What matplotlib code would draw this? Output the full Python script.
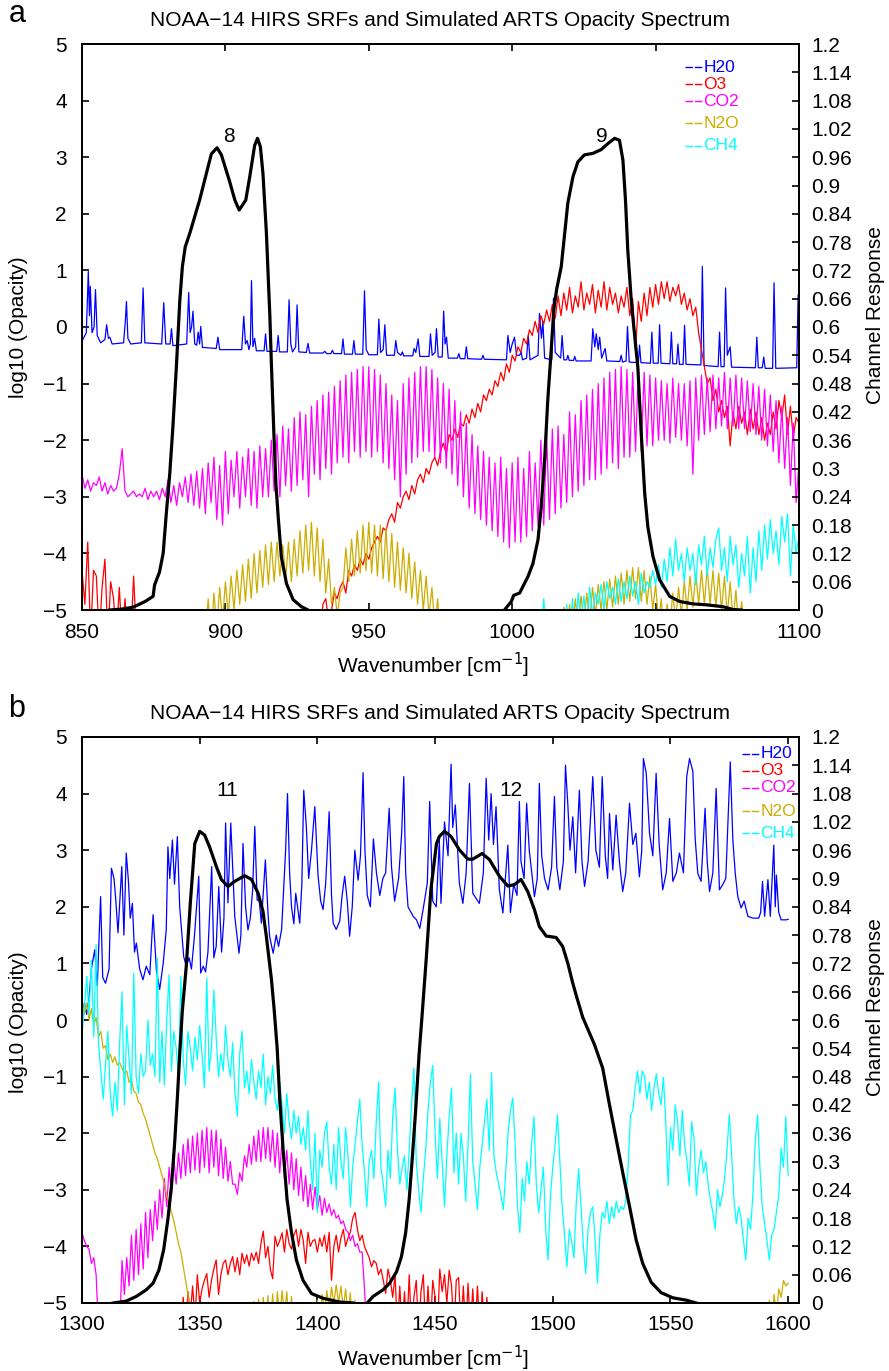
import numpy as np
import matplotlib
matplotlib.use('Agg')
import matplotlib.pyplot as plt

plt.rcParams['font.family'] = ['Liberation Sans', 'DejaVu Sans']

# colores de cada gas
c_h2o = '#0000ff'
c_o3 = '#ff0000'
c_co2 = '#ff00ff'
c_n2o = '#ccad00'
c_ch4 = '#00ffff'

gases = ['H20', 'O3', 'CO2', 'N2O', 'CH4']
title = 'NOAA\u221214 HIRS SRFs and Simulated ARTS Opacity Spectrum'

#%% panel a (850-1100 cm-1), log10 opacity

# H2O: lineas aisladas sobre un fondo
h2o_a_x = [850.0, 851.5, 852.2, 852.6, 852.9, 853.5, 854.2, 854.7, 855.3, 856.5,
           858.0, 858.6, 859.2, 859.7, 860.5, 864.5, 865.1, 865.5, 866.0, 867.0,
           870.7, 871.3, 871.9, 877.8, 878.5, 879.2, 880.7, 881.2, 881.7, 886.5,
           887.2, 887.7, 888.2, 888.7, 889.3, 890.0, 890.5, 891.0, 891.4, 892.0,
           896.8, 897.4, 898.0, 905.7, 906.4, 907.0, 907.6, 908.2, 908.7, 909.1,
           909.6, 910.2, 910.8, 913.5, 914.0, 914.5, 917.9, 918.4, 918.9, 921.6,
           922.2, 922.8, 923.4, 924.5, 925.0, 925.6, 928.2, 928.8, 929.4, 934.0,
           934.7, 935.3, 936.8, 937.3, 937.8, 940.5, 941.0, 941.5, 944.3, 944.8,
           945.3, 947.9, 948.5, 949.1, 950.0, 953.0, 953.5, 954.1, 955.0, 955.6,
           956.2, 958.9, 959.4, 960.0, 961.2, 961.7, 962.2, 965.3, 965.8, 966.4,
           967.2, 967.8, 971.0, 971.5, 972.1, 973.1, 973.6, 974.2, 975.6, 976.1,
           976.6, 977.1, 977.7, 980.9, 981.4, 981.9, 983.5, 984.0, 984.5, 989.3,
           989.8, 990.3, 998.0, 998.5, 999.3, 1000.0, 1000.8, 1001.5, 1002.6, 1003.1,
           1003.6, 1005.0, 1005.6, 1006.2, 1009.0, 1009.5, 1010.2, 1010.7, 1011.3, 1013.8,
           1014.4, 1015.0, 1016.9, 1017.4, 1018.0, 1019.0, 1019.4, 1019.9, 1021.4, 1021.8,
           1022.3, 1027.5, 1028.1, 1028.8, 1029.3, 1030.0, 1030.5, 1031.2, 1032.4, 1033.0,
           1037.5, 1038.0, 1038.5, 1039.7, 1040.2, 1040.8, 1044.0, 1044.4, 1044.9, 1048.2,
           1048.7, 1049.2, 1050.9, 1051.4, 1051.9, 1055.0, 1055.5, 1056.0, 1057.3, 1057.8,
           1058.3, 1059.6, 1060.1, 1060.6, 1065.8, 1066.3, 1066.9, 1071.8, 1072.3, 1072.8,
           1073.9, 1074.4, 1075.0, 1076.0, 1076.5, 1084.8, 1085.3, 1085.8, 1087.2, 1087.7,
           1088.2, 1090.8, 1091.3, 1091.9, 1099.2, 1099.7, 1100.0]
h2o_a_y = [-0.25, -0.1, 0.98, 0.2, 0.72, -0.1, 0.0, 0.66, -0.15, -0.28,
           -0.22, 0.04, -0.2, -0.18, -0.3, -0.28, 0.1, 0.45, -0.2, -0.3,
           -0.28, 0.69, -0.28, -0.3, 0.43, -0.3, -0.3, -0.03, -0.33, -0.3,
           0.61, -0.1, 0.0, 0.28, -0.3, -0.32, -0.09, -0.3, 0.01, -0.36,
           -0.38, -0.18, -0.4, -0.4, 0.19, -0.3, -0.24, -0.4, -0.3, 0.82,
           -0.35, -0.2, -0.42, -0.42, -0.12, -0.43, -0.43, -0.15, -0.44, -0.44,
           0.48, -0.3, -0.44, -0.35, 0.39, -0.44, -0.45, -0.29, -0.46, -0.46,
           -0.43, -0.47, -0.47, -0.41, -0.47, -0.47, -0.21, -0.48, -0.48, -0.24,
           -0.48, -0.48, 0.64, -0.4, -0.49, -0.49, 0.14, -0.45, -0.4, 0.04,
           -0.5, -0.5, -0.24, -0.45, -0.5, -0.44, -0.51, -0.51, -0.38, -0.45,
           -0.21, -0.52, -0.52, -0.12, -0.5, -0.45, -0.03, -0.53, -0.53, 0.28,
           -0.3, -0.18, -0.55, -0.55, -0.47, -0.56, -0.56, -0.35, -0.56, -0.57,
           -0.5, -0.57, -0.58, -0.15, -0.45, -0.3, -0.18, -0.5, -0.5, -0.44,
           -0.58, -0.55, -0.15, -0.58, -0.5, 0.24, -0.2, 0.1, -0.55, -0.58,
           0.51, -0.45, -0.55, -0.15, -0.58, -0.58, -0.5, -0.59, -0.59, -0.52,
           -0.6, -0.6, -0.03, -0.35, -0.12, -0.4, -0.18, -0.55, -0.38, -0.6,
           -0.61, -0.5, -0.62, -0.6, 0.01, -0.62, -0.63, -0.32, -0.63, -0.64,
           -0.09, -0.64, -0.64, 0.04, -0.64, -0.65, -0.09, -0.65, -0.65, -0.3,
           -0.66, -0.66, 0.03, -0.66, -0.67, 1.07, -0.68, -0.7, -0.09, -0.7,
           -0.7, 0.69, -0.5, -0.35, -0.71, -0.72, -0.18, -0.72, -0.72, -0.53,
           -0.73, -0.73, 0.78, -0.73, -0.72, 0.57, -0.1]

# O3: primer tramo desde 850, segundo desde 933 (paso 1 cm-1)
o3_a1 = [-4.3, -4.9, -3.8, -5.5, -4.3, -4.4, -5.5, -4.6, -4.1, -5.5,
         -4.5, -4.8, -5.5, -4.6, -5.5, -4.8, -5.5, -5.5, -4.4, -5.5]
o3_a2 = [-5.5, -4.9, -4.8, -5.2, -5.0, -4.7, -4.8, -4.6, -4.5, -4.7,
         -4.3, -4.4, -4.2, -4.3, -4.1, -4.2, -4.0, -4.1, -3.9, -3.8,
         -3.7, -3.8, -3.55, -3.6, -3.4, -3.3, -3.45, -3.1, -3.2, -3.0,
         -2.9, -3.05, -2.8, -2.95, -2.7, -2.6, -2.75, -2.5, -2.6, -2.4,
         -2.3, -2.45, -2.2, -2.05, -2.25, -1.9, -2.0, -1.8, -1.95, -1.7,
         -1.75, -1.55, -1.7, -1.45, -1.6, -1.35, -1.5, -1.2, -1.3, -1.1,
         -1.2, -0.95, -1.05, -0.8, -0.95, -0.65, -0.8, -0.5, -0.6, -0.35,
         -0.45, -0.2, -0.3, -0.05, -0.15, 0.1, -0.1, 0.2, 0.05, 0.3,
         0.1, 0.4, 0.15, 0.55, 0.2, 0.6, 0.3, 0.7, 0.25, 0.55,
         0.35, 0.8, 0.3, 0.6, 0.4, 0.75, 0.25, 0.65, 0.35, 0.8,
         0.3, 0.7, 0.4, 0.6, 0.25, 0.55, 0.35, 0.7, 0.2, 0.5,
         -0.4, 0.45, 0.1, 0.6, 0.2, 0.7, 0.35, 0.75, 0.4, 0.8,
         0.5, 0.8, 0.45, 0.7, 0.55, 0.75, 0.4, 0.6, 0.3, 0.5,
         0.2, 0.35, -0.1, -0.4, -0.7, -1.0, -0.9, -1.3, -1.1, -1.5,
         -1.3, -1.6, -1.4, -2.1, -1.5, -1.8, -1.4, -1.7, -1.5, -1.9,
         -1.45, -1.8, -1.5, -1.9, -1.6, -2.0, -1.7, -1.9, -1.5, -1.8,
         -1.3, -1.6, -1.2, -1.9, -1.4, -1.95, -1.6, -1.7]

# CO2 desde 850
co2_a = [-2.6, -2.85, -2.7, -2.9, -2.75, -2.8, -2.65, -2.9, -2.75, -2.95,
         -2.8, -2.9, -2.85, -2.6, -2.15, -2.9, -3.0, -2.95, -2.9, -3.0,
         -2.95, -3.0, -2.85, -3.05, -2.9, -3.0, -2.9, -3.05, -2.85, -3.0,
         -2.7, -3.1, -2.8, -3.15, -2.75, -3.0, -2.65, -3.1, -2.6, -3.15,
         -2.55, -3.2, -2.5, -3.3, -2.4, -3.1, -2.3, -3.4, -2.45, -3.5,
         -2.2, -3.3, -2.35, -3.0, -2.2, -3.2, -2.3, -3.0, -2.15, -3.15,
         -2.2, -3.2, -2.1, -3.0, -2.15, -3.0, -2.0, -2.9, -1.9, -3.0,
         -1.75, -2.8, -1.8, -2.9, -1.6, -2.8, -1.5, -2.7, -1.55, -3.0,
         -1.4, -2.6, -1.3, -2.7, -1.2, -2.5, -1.15, -2.6, -1.05, -2.4,
         -0.95, -2.3, -0.85, -2.4, -0.8, -2.2, -0.75, -2.3, -0.7, -2.2,
         -0.7, -2.3, -0.75, -2.2, -0.85, -2.4, -1.0, -2.5, -1.2, -2.7,
         -1.3, -3.0, -1.0, -2.6, -0.9, -2.4, -0.8, -2.3, -0.7, -2.2,
         -0.7, -2.2, -0.75, -2.3, -0.9, -2.4, -1.0, -2.5, -1.1, -2.6,
         -1.3, -2.8, -1.5, -3.0, -1.7, -3.2, -1.9, -3.3, -2.1, -3.4,
         -2.2, -3.5, -2.3, -3.6, -2.4, -3.7, -2.3, -3.8, -2.5, -3.9,
         -2.4, -3.8, -2.3, -3.8, -2.5, -3.7, -2.2, -3.6, -2.4, -3.5,
         -2.0, -3.5, -1.9, -3.4, -1.8, -3.3, -1.75, -3.2, -1.9, -3.1,
         -1.5, -3.0, -1.55, -2.9, -1.3, -2.8, -1.2, -2.7, -1.1, -2.7,
         -1.0, -2.6, -0.9, -2.5, -0.8, -2.4, -0.75, -2.5, -0.7, -2.3,
         -0.75, -2.3, -0.8, -2.2, -0.7, -2.2, -0.8, -2.1, -0.85, -2.1,
         -0.9, -2.0, -0.95, -2.0, -1.0, -2.05, -0.9, -1.95, -1.0, -2.0,
         -1.0, -2.1, -0.95, -2.6, -0.9, -2.0, -0.85, -1.9, -0.9, -1.85,
         -0.85, -1.8, -0.9, -1.75, -0.8, -1.8, -0.9, -1.75, -0.85, -1.8,
         -0.9, -1.8, -0.95, -1.85, -1.0, -1.9, -1.05, -2.0, -1.1, -2.1,
         -1.2, -2.2, -1.3, -2.4, -1.4, -2.5, -1.6, -2.8, -1.7, -3.1,
         -2.4]

# N2O: dos bandas, desde 893 y desde 1017
n2o_a1 = [-5.5, -4.8, -5.5, -4.7, -5.3, -4.6, -5.2, -4.5, -5.1, -4.4,
          -5.0, -4.3, -4.9, -4.2, -4.85, -4.1, -4.8, -4.0, -4.7, -3.95,
          -4.6, -3.85, -4.55, -3.8, -4.5, -3.8, -4.4, -3.85, -4.45, -3.8,
          -4.5, -3.75, -4.4, -3.6, -4.35, -3.5, -4.3, -3.45, -4.4, -3.55,
          -4.5, -3.75, -4.7, -4.1, -4.9, -4.6, -5.1, -4.7, -4.6, -3.9,
          -4.5, -3.75, -4.4, -3.6, -4.35, -3.5, -4.3, -3.45, -4.35, -3.5,
          -4.4, -3.5, -4.45, -3.55, -4.5, -3.65, -4.6, -3.8, -4.65, -3.9,
          -4.7, -4.0, -4.8, -4.15, -4.9, -4.3, -5.0, -4.4, -5.1, -4.6,
          -5.3, -4.8, -5.5, -5.0]
n2o_a2 = [-5.5, -4.95, -5.5, -4.9, -5.4, -4.8, -5.3, -4.75, -5.2, -4.7,
          -5.2, -4.6, -5.1, -4.55, -5.0, -4.5, -5.0, -4.45, -4.95, -4.4,
          -4.9, -4.35, -4.9, -4.3, -4.85, -4.25, -4.8, -4.25, -4.85, -4.3,
          -4.9, -4.4, -5.0, -4.55, -5.2, -4.8, -5.5, -4.9, -5.3, -4.7,
          -5.2, -4.6, -5.1, -4.5, -5.0, -4.4, -4.95, -4.35, -4.9, -4.3,
          -4.9, -4.25, -4.9, -4.3, -4.95, -4.35, -5.0, -4.4, -5.1, -4.5,
          -5.2, -4.65, -5.3, -4.85, -5.5]

# CH4 desde 1010
ch4_a = [-5.5, -4.8, -5.5, -5.5, -5.5, -5.5, -5.5, -5.5, -5.5, -4.9,
         -5.5, -4.8, -5.5, -4.7, -5.2, -4.75, -5.3, -4.6, -5.1, -4.7,
         -4.9, -4.55, -5.0, -4.5, -4.8, -4.6, -4.9, -4.45, -4.85, -4.5,
         -4.8, -4.4, -4.75, -4.5, -4.9, -4.35, -4.7, -4.5, -4.6, -4.3,
         -4.55, -4.2, -4.6, -4.1, -4.5, -3.9, -4.4, -3.75, -4.3, -4.0,
         -4.5, -3.9, -4.3, -4.0, -4.55, -3.85, -4.2, -3.7, -4.4, -3.9,
         -4.25, -3.75, -3.55, -4.3, -3.9, -4.5, -3.7, -4.2, -3.85, -4.6,
         -4.0, -4.4, -3.7, -4.7, -3.9, -4.5, -3.6, -4.3, -3.5, -4.1,
         -3.4, -4.0, -3.6, -4.2, -3.35, -3.8, -3.3, -4.4, -3.5, -4.0,
         -3.7]

# respuesta espectral canales 8 y 9
srf8_x = [859.7, 864.0, 867.8, 872.0, 874.8, 875.3, 877.0, 878.3, 879.4, 880.6,
          881.7, 882.9, 884.1, 885.0, 886.0, 887.6, 889.3, 891.0, 892.8, 895.1,
          897.1, 898.6, 901.5, 903.3, 904.8, 907.1, 908.5, 910.2, 911.2, 912.2,
          913.1, 914.3, 915.0, 915.5, 916.0, 916.9, 917.6, 918.4, 919.5, 921.3,
          923.6, 926.5, 928.8]
srf8 = [0.0, 0.002, 0.006, 0.018, 0.029, 0.053, 0.08, 0.12, 0.205, 0.289,
        0.389, 0.515, 0.656, 0.728, 0.77, 0.799, 0.834, 0.869, 0.912, 0.967,
        0.98, 0.965, 0.908, 0.869, 0.848, 0.869, 0.919, 0.985, 1.0, 0.982,
        0.925, 0.799, 0.696, 0.624, 0.528, 0.374, 0.269, 0.198, 0.113, 0.056,
        0.022, 0.007, 0.0]
srf9_x = [997.3, 999.7, 1000.5, 1002.6, 1005.5, 1007.2, 1009.0, 1010.1, 1011.3, 1012.4,
          1013.6, 1014.5, 1015.5, 1017.1, 1019.4, 1021.2, 1022.9, 1025.2, 1028.1, 1031.0,
          1033.4, 1035.7, 1037.4, 1038.6, 1039.5, 1040.3, 1041.5, 1042.4, 1043.8, 1045.0,
          1046.2, 1047.3, 1049.1, 1051.4, 1054.9, 1058.4, 1063.0, 1067.7, 1073.5, 1077.0,
          1079.9]
srf9 = [0.0, 0.018, 0.031, 0.036, 0.071, 0.098, 0.149, 0.218, 0.318, 0.445,
        0.551, 0.636, 0.68, 0.728, 0.863, 0.919, 0.95, 0.965, 0.968, 0.976,
        0.989, 1.0, 0.996, 0.954, 0.869, 0.763, 0.658, 0.6, 0.515, 0.374,
        0.247, 0.176, 0.113, 0.064, 0.029, 0.018, 0.013, 0.011, 0.007, 0.001,
        0.0]

#%% panel b (1300-1600 cm-1)

h2o_b_x = [1300.0, 1301.0, 1302.0, 1303.0, 1304.0, 1305.4, 1306.5, 1307.9, 1308.8, 1310.0,
           1311.5, 1312.5, 1313.6, 1314.3, 1315.3, 1316.9, 1317.8, 1318.8, 1319.7, 1320.5,
           1321.4, 1322.3, 1323.1, 1324.5, 1325.9, 1327.3, 1328.8, 1330.2, 1331.6, 1333.0,
           1334.5, 1335.8, 1336.5, 1337.3, 1338.4, 1339.3, 1340.5, 1341.5, 1343.2, 1344.3,
           1345.5, 1346.5, 1347.8, 1349.6, 1350.4, 1351.5, 1352.5, 1353.5, 1355.1, 1356.0,
           1357.0, 1358.1, 1359.3, 1360.3, 1361.0, 1362.0, 1363.2, 1364.9, 1366.7, 1367.5,
           1368.4, 1369.5, 1370.5, 1371.5, 1372.5, 1373.4, 1374.4, 1375.3, 1376.2, 1377.9,
           1379.0, 1379.7, 1381.2, 1382.5, 1383.5, 1384.8, 1386.5, 1387.3, 1388.2, 1389.0,
           1390.0, 1390.8, 1392.5, 1393.4, 1394.2, 1395.3, 1396.3, 1397.5, 1398.9, 1400.3,
           1401.4, 1402.4, 1403.5, 1405.0, 1406.0, 1406.7, 1408.0, 1409.5, 1410.5, 1411.6,
           1412.7, 1413.7, 1414.8, 1415.9, 1417.3, 1418.3, 1419.4, 1420.2, 1421.2, 1422.5,
           1423.8, 1425.1, 1426.5, 1427.8, 1429.0, 1430.5, 1431.5, 1432.8, 1434.5, 1435.8,
           1436.7, 1437.5, 1438.5, 1440.7, 1442.1, 1443.5, 1444.9, 1446.7, 1447.7, 1449.0,
           1450.5, 1451.8, 1452.5, 1454.0, 1455.5, 1456.8, 1457.5, 1458.6, 1460.3, 1461.8,
           1463.2, 1464.6, 1466.0, 1468.8, 1470.5, 1471.7, 1472.8, 1473.8, 1474.8, 1475.9,
           1477.3, 1478.8, 1480.9, 1482.0, 1483.4, 1484.8, 1485.8, 1486.5, 1487.8, 1488.9,
           1490.0, 1492.2, 1493.4, 1494.3, 1495.3, 1496.5, 1498.0, 1499.5, 1500.7, 1501.7,
           1503.0, 1504.5, 1505.4, 1506.4, 1507.3, 1508.5, 1509.7, 1511.3, 1512.4, 1513.5,
           1515.0, 1516.3, 1517.0, 1518.3, 1519.8, 1521.0, 1522.3, 1523.3, 1524.1, 1525.5,
           1526.9, 1528.3, 1529.7, 1531.0, 1532.6, 1534.0, 1535.3, 1536.8, 1537.8, 1538.5,
           1539.7, 1541.1, 1542.5, 1543.9, 1545.2, 1546.7, 1548.2, 1549.6, 1551.0, 1552.5,
           1553.8, 1555.5, 1556.9, 1558.1, 1559.5, 1560.5, 1561.6, 1563.0, 1564.7, 1565.6,
           1566.6, 1568.0, 1569.4, 1570.8, 1572.3, 1573.5, 1575.4, 1576.5, 1577.5, 1578.6,
           1580.0, 1581.3, 1582.9, 1585.0, 1587.5, 1588.3, 1589.1, 1590.0, 1591.4, 1592.4,
           1593.9, 1594.5, 1595.0, 1596.0, 1597.0, 1599.2, 1600.0]
h2o_b_y = [0.0, 0.3, 0.1, 0.4, 0.9, 1.24, 0.6, 2.18, 0.75, 0.65,
           0.9, 2.68, 2.5, 2.15, 1.54, 2.71, 1.5, 2.95, 2.47, 1.8,
           2.06, 1.2, 1.36, 0.9, 0.71, 0.95, 0.8, 1.86, 0.89, 0.54,
           1.0, 1.6, 3.06, 2.5, 3.18, 2.4, 3.24, 2.0, 1.12, 0.95,
           1.1, 0.9, 1.5, 2.54, 0.83, 0.95, 0.85, 1.2, 2.71, 1.1,
           1.3, 2.36, 1.2, 1.8, 3.48, 2.07, 3.48, 1.83, 1.18, 1.5,
           3.12, 2.0, 1.59, 1.8, 2.3, 3.42, 2.12, 2.1, 1.71, 2.83,
           1.9, 1.48, 1.18, 1.5, 1.3, 1.6, 3.0, 4.0, 2.6, 2.0,
           1.7, 2.24, 1.71, 2.4, 4.06, 3.42, 2.5, 3.0, 3.77, 2.54,
           2.1, 1.95, 2.4, 3.68, 2.2, 1.71, 1.6, 1.75, 2.2, 2.54,
           2.1, 1.48, 2.0, 3.0, 2.47, 2.9, 4.37, 3.0, 2.2, 2.0,
           3.2, 2.59, 2.2, 2.5, 2.6, 3.74, 2.7, 2.1, 2.5, 3.3,
           4.3, 2.6, 2.0, 1.83, 1.77, 1.62, 1.95, 2.42, 3.86, 2.1,
           2.0, 3.18, 2.06, 3.5, 2.9, 4.52, 3.4, 3.8, 2.42, 2.06,
           2.6, 4.18, 2.24, 2.06, 2.6, 4.27, 3.18, 4.0, 3.1, 3.77,
           2.3, 1.89, 3.09, 1.9, 2.4, 2.2, 3.86, 2.8, 2.5, 3.83,
           3.0, 2.18, 2.5, 4.18, 2.9, 2.5, 2.3, 2.7, 3.95, 2.7,
           2.3, 2.8, 4.5, 3.8, 3.0, 3.59, 2.6, 4.06, 2.8, 2.36,
           2.8, 3.77, 4.3, 3.0, 2.7, 4.3, 2.9, 2.5, 3.65, 2.65,
           3.62, 2.8, 2.27, 2.6, 3.83, 3.1, 3.3, 2.53, 3.0, 4.62,
           4.36, 3.3, 2.9, 4.36, 3.1, 2.3, 2.6, 3.56, 2.45, 2.6,
           2.95, 2.6, 4.3, 4.62, 4.39, 3.2, 2.59, 2.45, 3.74, 2.8,
           2.27, 2.6, 4.09, 2.3, 2.4, 2.5, 4.56, 3.18, 2.6, 2.18,
           1.98, 2.1, 1.83, 1.8, 1.8, 1.9, 2.45, 1.83, 2.48, 1.83,
           3.09, 2.0, 2.56, 1.9, 1.77, 1.77, 1.78]

# O3 desde 1342
o3_b = [-5.5, -4.9, -5.5, -4.8, -5.2, -4.7, -5.3, -4.5, -5.0, -4.75,
        -4.6, -4.48, -4.9, -4.6, -4.4, -4.24, -4.85, -4.5, -4.3, -4.24,
        -4.5, -4.3, -4.18, -4.45, -4.2, -4.5, -4.12, -4.3, -4.15, -4.35,
        -4.12, -4.25, -4.1, -4.3, -3.95, -3.73, -4.2, -4.0, -4.4, -4.57,
        -3.82, -4.0, -3.9, -3.76, -4.1, -3.7, -3.95, -4.05, -3.8, -3.7,
        -4.0, -3.7, -3.9, -4.3, -3.75, -4.0, -3.9, -3.88, -4.1, -3.85,
        -4.0, -3.8, -4.1, -3.75, -4.6, -4.0, -3.8, -4.1, -3.85, -3.7,
        -4.0, -3.85, -3.75, -3.5, -3.4, -3.7, -3.9, -3.8, -4.0, -4.1,
        -4.2, -4.36, -4.25, -4.3, -4.5, -4.4, -4.6, -4.83, -4.4, -4.6,
        -4.9, -4.5, -5.5, -4.7, -5.5, -4.8, -5.5, -4.5, -5.5, -4.9,
        -4.6, -5.5, -4.8, -4.5, -5.5, -4.7, -5.5, -4.6, -4.9, -5.5,
        -4.4, -4.8, -4.5, -5.0, -4.42, -4.7, -5.5, -4.6, -4.55, -5.5,
        -4.7, -5.5, -4.65, -5.5, -4.75, -5.5, -4.7, -5.5, -4.8, -5.5,
        -4.9, -5.5, -5.5, -5.5]

# CO2 desde 1300
co2_b = [-3.75, -3.9, -4.0, -4.05, -4.3, -4.2, -4.5, -5.5, -5.5, -5.5,
         -5.5, -5.5, -5.5, -5.5, -5.5, -5.5, -5.5, -4.25, -4.85, -4.2,
         -4.7, -3.8, -4.6, -3.7, -4.5, -3.6, -4.4, -3.4, -4.2, -3.35,
         -3.9, -3.2, -3.7, -3.0, -3.5, -2.8, -3.3, -2.6, -3.1, -2.45,
         -2.9, -2.35, -2.8, -2.2, -2.75, -2.1, -2.7, -2.05, -2.65, -2.0,
         -2.7, -1.95, -2.6, -1.9, -2.7, -1.95, -2.6, -1.95, -2.75, -2.1,
         -2.8, -2.25, -2.85, -2.5, -2.9, -2.9, -3.08, -2.7, -2.85, -2.4,
         -2.6, -2.2, -2.55, -2.05, -2.5, -1.95, -2.5, -1.9, -2.45, -1.9,
         -2.5, -1.95, -2.6, -2.0, -2.7, -2.1, -2.8, -2.3, -2.9, -2.35,
         -3.0, -2.45, -3.1, -2.6, -3.2, -2.75, -3.3, -2.9, -3.35, -2.95,
         -3.35, -3.1, -3.45, -3.15, -3.4, -3.25, -3.45, -3.35, -3.5, -3.45,
         -3.6, -3.55, -3.7, -3.75, -3.9, -3.8, -4.0, -3.95, -4.1, -4.1,
         -4.75, -5.5]

# N2O: cola desde 1300 y bandas debiles en 1372, 1399 y 1591
n2o_b1 = [0.35, 0.1, 0.3, 0.0, 0.2, -0.1, 0.05, -0.3, -0.2, -0.5,
          -0.45, -0.7, -0.6, -0.75, -0.65, -0.8, -0.75, -0.85, -0.95, -0.9,
          -1.1, -1.05, -1.25, -1.3, -1.45, -1.5, -1.65, -1.75, -1.9, -2.05,
          -2.2, -2.35, -2.45, -2.6, -2.75, -2.9, -3.1, -3.25, -3.4, -3.55,
          -3.75, -3.95, -4.1, -4.35, -4.6, -4.85, -5.5]
n2o_b2 = [-5.5, -4.97, -5.5, -4.93, -5.5, -4.9, -5.5, -4.87, -5.5, -4.84,
          -5.5, -4.8, -5.3, -4.78, -5.2, -4.8, -5.5, -4.88, -5.5]
n2o_b3 = [-5.5, -4.95, -5.5, -4.85, -5.2, -4.78, -5.1, -4.72, -5.0, -4.68,
          -5.0, -4.7, -5.1, -4.75, -5.2, -4.82, -5.5, -4.95]
n2o_b4 = [-5.5, -4.95, -5.5, -4.85, -5.2, -4.75, -4.9, -4.6, -4.7, -4.65]

# CH4 desde 1300
ch4_b = [-0.25, 0.2, 0.77, 0.1, 1.06, -0.3, 1.33, -0.4, -0.9, -1.4,
         -0.8, -0.2, -1.3, -1.7, -1.1, -1.6, -0.4, 0.5, -1.5, -0.1,
         -0.7, -1.3, 0.83, -1.0, -1.3, -0.6, -1.0, -0.9, 0.0, -0.8,
         -0.6, -1.0, 1.09, -1.1, -0.2, -1.15, 0.0, 0.8, -0.9, -0.2,
         -0.5, -1.0, 0.77, -0.7, -1.15, -0.2, -0.5, -0.9, -0.3, -0.7,
         -0.1, -0.6, -1.2, 0.74, -0.9, -0.5, 0.53, -0.3, -1.0, -0.6,
         -0.9, -0.1, -0.7, -1.0, -0.4, -1.3, -1.7, -0.6, -0.2, -1.2,
         -0.9, -1.3, -0.7, -1.1, -1.4, -0.9, -1.2, -0.6, -1.5, -1.0,
         -1.3, -0.8, -1.4, -1.6, -1.1, -1.5, -2.0, -1.3, -1.8, -2.1,
         -1.6, -2.0, -1.7, -2.2, -1.9, -2.3, -1.6, -2.5, -3.0, -2.0,
         -3.4, -2.3, -2.6, -2.0, -1.8, -2.6, -2.9, -2.2, -3.0, -1.9,
         -2.5, -2.8, -1.9, -2.4, -3.3, -2.6, -2.2, -1.8, -1.4, -2.2,
         -2.7, -3.3, -2.5, -2.3, -2.8, -1.8, -1.1, -2.6, -2.9, -3.3,
         -2.3, -2.8, -1.7, -1.2, -2.3, -2.9, -2.6, -2.4, -3.0, -2.3,
         -1.5, -0.85, -2.5, -3.0, -3.4, -2.8, -2.3, -1.6, -1.1, -0.8,
         -2.0, -2.8, -1.74, -2.5, -3.3, -2.4, -1.7, -1.2, -2.7, -2.0,
         -2.9, -2.0, -2.4, -3.2, -2.2, -0.96, -2.5, -2.9, -3.35, -2.6,
         -2.2, -1.8, -1.4, -2.3, -0.93, -2.4, -2.7, -2.9, -3.1, -3.35,
         -2.7, -2.0, -1.6, -1.38, -2.2, -3.3, -3.76, -2.8, -3.2, -2.5,
         -2.9, -2.2, -1.71, -2.9, -3.4, -3.0, -2.6, -3.7, -4.24, -3.1,
         -2.6, -2.2, -1.68, -2.5, -3.3, -3.8, -4.36, -3.7, -3.9, -4.2,
         -3.2, -2.63, -3.3, -4.0, -4.48, -3.7, -3.4, -3.3, -3.9, -4.65,
         -3.8, -3.4, -3.5, -3.2, -3.6, -3.3, -3.5, -3.2, -3.4, -3.3,
         -3.35, -3.2, -2.6, -1.68, -1.6, -1.2, -0.9, -1.3, -0.9, -1.0,
         -1.4, -1.1, -1.6, -1.2, -0.95, -1.3, -1.5, -1.01, -1.8, -2.93,
         -1.9, -2.3, -1.5, -1.8, -2.4, -1.6, -2.2, -2.5, -2.93, -1.8,
         -2.1, -3.1, -2.6, -2.3, -2.7, -2.5, -2.9, -3.2, -3.4, -3.7,
         -3.0, -3.3, -3.1, -2.8, -2.3, -1.68, -2.4, -3.2, -3.6, -3.3,
         -3.5, -3.9, -4.24, -3.5, -3.7, -3.1, -2.15, -1.68, -2.6, -3.3,
         -3.6, -3.9, -4.24, -3.8, -3.7, -3.4, -3.1, -2.27, -2.6, -1.71,
         -2.75]

srf11_x = [1313.2, 1318.8, 1323.1, 1327.3, 1330.2, 1332.7, 1334.7, 1336.5, 1338.0, 1339.4,
           1340.5, 1341.5, 1342.6, 1344.3, 1346.0, 1347.9, 1350.0, 1352.1, 1354.2, 1357.1,
           1359.2, 1362.0, 1364.9, 1369.1, 1372.0, 1374.8, 1376.9, 1378.3, 1380.5, 1381.6,
           1382.9, 1384.0, 1385.4, 1387.1, 1389.0, 1391.1, 1393.9, 1397.5, 1402.4, 1409.5,
           1415.2]
srf11 = [0.0, 0.004, 0.014, 0.028, 0.042, 0.07, 0.113, 0.178, 0.248, 0.342,
         0.434, 0.527, 0.618, 0.714, 0.847, 0.974, 1.0, 0.992, 0.967, 0.925,
         0.898, 0.883, 0.894, 0.906, 0.898, 0.869, 0.83, 0.778, 0.685, 0.624,
         0.541, 0.434, 0.328, 0.22, 0.149, 0.091, 0.048, 0.02, 0.01, 0.002,
         0.0]
srf12_x = [1421.5, 1423.7, 1427.9, 1430.7, 1433.6, 1435.7, 1437.5, 1439.0, 1440.4, 1441.8,
           1443.2, 1444.6, 1446.3, 1448.2, 1450.6, 1451.8, 1454.0, 1456.8, 1460.3, 1463.9,
           1466.0, 1470.0, 1473.1, 1477.3, 1480.9, 1483.7, 1486.5, 1489.4, 1492.2, 1494.3,
           1497.2, 1501.4, 1504.2, 1506.4, 1508.5, 1510.2, 1512.7, 1517.7, 1521.2, 1524.1,
           1526.9, 1529.7, 1532.6, 1535.4, 1538.2, 1541.8, 1546.0, 1551.0, 1556.7, 1560.9]
srf12 = [0.002, 0.014, 0.028, 0.042, 0.066, 0.098, 0.149, 0.22, 0.313, 0.413,
         0.527, 0.618, 0.734, 0.876, 0.974, 0.989, 1.0, 0.989, 0.961, 0.941,
         0.941, 0.953, 0.94, 0.905, 0.884, 0.887, 0.898, 0.872, 0.834, 0.798,
         0.778, 0.775, 0.756, 0.72, 0.678, 0.648, 0.606, 0.548, 0.498, 0.42,
         0.348, 0.277, 0.205, 0.134, 0.084, 0.044, 0.022, 0.011, 0.006, 0.0]


def grid(x0, vals):
    # eje x de 1 cm-1 para las series muestreadas
    return x0 + np.arange(len(vals))


def panel(bottom, xlim, xticks, series, srfs, chan_lab, leg_x, leg_y, lab_y, letter):
    ax = fig.add_axes([82/889, bottom, 717/889, 566/1371])
    for x, y, c in series:
        ax.plot(x, y, color=c, lw=0.9)
    ax.set_xlim(*xlim)
    ax.set_ylim(-5, 5)
    ax.set_xticks(xticks)
    ax.set_yticks(range(-5, 6))
    ax.tick_params(direction='in', length=5, width=1.2, labelsize=15, top=True, right=False)
    ax.tick_params(axis='x', pad=9)
    ax.tick_params(axis='y', pad=11)
    for s in ax.spines.values():
        s.set_linewidth(1.4)
    ax.set_xlabel('Wavenumber [cm$^{-1}$]', fontsize=15)
    ax.xaxis.set_label_coords(0.49, -0.072)
    ax.set_ylabel('log10 (Opacity)', fontsize=15)
    ax.yaxis.set_label_coords(-0.075, lab_y[0])
    ax.text(0.5, 1.042, title, transform=ax.transAxes, ha='center', va='center', fontsize=15)

    ax2 = ax.twinx()
    for x, r in srfs:
        ax2.plot(x, r, color='k', lw=2.3)
    ax2.set_ylim(0, 1.2)
    ax2.set_yticks(np.linspace(0, 1.2, 21))
    ax2.set_yticklabels(['%g' % round(v, 2) for v in np.linspace(0, 1.2, 21)])
    ax2.tick_params(direction='in', length=5, width=1.2, labelsize=15, pad=9)
    ax2.set_ylabel('Channel Response', fontsize=15)
    ax2.yaxis.set_label_coords(1.093, lab_y[1])
    for s in ax2.spines.values():
        s.set_linewidth(1.4)

    for t, x, y in chan_lab:
        ax.text(x, y, t, ha='center', va='center', fontsize=15)

    # leyenda: trazo discontinuo corto + nombre del gas
    cols = [c_h2o, c_o3, c_co2, c_n2o, c_ch4]
    for g, c, y in zip(gases, cols, leg_y):
        ax.plot([leg_x, leg_x + 18/717], [y, y], color=c, lw=1.0,
                ls=(0, (5.4, 1.3)), transform=ax.transAxes, clip_on=False)
        ax.text(leg_x + 18.5/717, y, g, color=c, transform=ax.transAxes,
                ha='left', va='center', fontsize=12.5)
    fig.text(17/889, letter[1], letter[0], ha='center', va='center', fontsize=22)
    return ax


fig = plt.figure(figsize=(8.89, 13.71), dpi=100)

panel(1 - 610/1371, (850, 1100), range(850, 1101, 50),
      [(h2o_a_x, h2o_a_y, c_h2o),
       (grid(850, o3_a1), o3_a1, c_o3),
       (grid(933, o3_a2), o3_a2, c_o3),
       (grid(850, co2_a), co2_a, c_co2),
       (grid(893, n2o_a1), n2o_a1, c_n2o),
       (grid(1017, n2o_a2), n2o_a2, c_n2o),
       (grid(1010, ch4_a), ch4_a, c_ch4)],
      [(srf8_x, srf8), (srf9_x, srf9)],
      [('8', 901.3, 3.36), ('9', 1031.1, 3.36)],
      0.841, [0.959, 0.929, 0.899, 0.860, 0.820], (0.5, 0.521), ('a', 1 - 14/1371))

panel(1 - 1303/1371, (1300, 1604.6), range(1300, 1601, 50),
      [(h2o_b_x, h2o_b_y, c_h2o),
       (grid(1342, o3_b), o3_b, c_o3),
       (grid(1300, co2_b), co2_b, c_co2),
       (grid(1300, n2o_b1), n2o_b1, c_n2o),
       (grid(1372, n2o_b2), n2o_b2, c_n2o),
       (grid(1399, n2o_b3), n2o_b3, c_n2o),
       (grid(1591, n2o_b4), n2o_b4, c_n2o),
       (grid(1300, ch4_b), ch4_b, c_ch4)],
      [(srf11_x, srf11), (srf12_x, srf12)],
      [('11', 1361.5, 4.06), ('12', 1482.2, 4.06)],
      0.9205, [0.970, 0.940, 0.910, 0.869, 0.830], (0.496, 0.523), ('b', 1 - 709/1371))

fig.savefig('out.png', dpi=100)
